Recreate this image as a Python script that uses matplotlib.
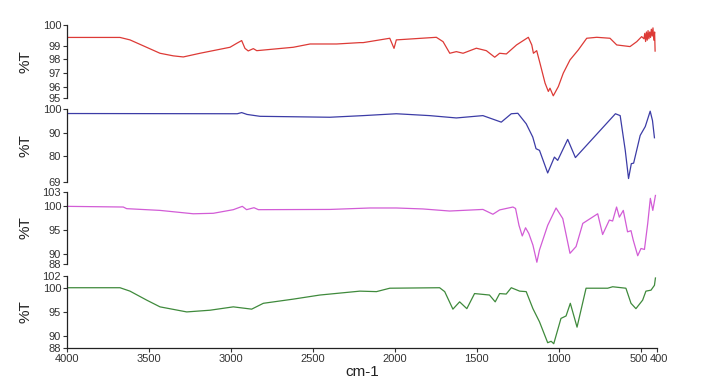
import numpy as np
import matplotlib
matplotlib.use('Agg')
import matplotlib.pyplot as plt
import matplotlib.transforms as mtrans

# wavenumbers (cm-1) and %T, one pair of lists per panel
red_wn = [4000, 3675, 3614, 3431, 3350, 3289, 3187, 3004, 2963, 2933, 2913,
          2893, 2862, 2841, 2618, 2516, 2354, 2212, 2192, 2030, 2004, 1990,
          1746, 1705, 1664, 1624, 1583, 1502, 1441, 1390, 1360, 1319, 1257,
          1185, 1164, 1154, 1134, 1114, 1083, 1063, 1053, 1033, 1002, 972,
          931, 880, 829, 768, 687, 646, 565, 524, 494, 480, 475, 470, 465,
          460, 455, 450, 445, 440, 435, 430, 425, 420, 415, 412]
red_t = [99.6, 99.6, 99.42, 98.44, 98.25, 98.17, 98.44, 98.88, 99.17, 99.37,
         98.8, 98.61, 98.78, 98.63, 98.88, 99.12, 99.12, 99.22, 99.22, 99.54,
         98.8, 99.42, 99.61, 99.29, 98.44, 98.56, 98.44, 98.81, 98.63, 98.15,
         98.44, 98.39, 99.05, 99.61, 99.05, 98.44, 98.63, 97.71, 96.25, 95.64,
         95.88, 95.32, 96.0, 96.98, 97.95, 98.69, 99.54, 99.61, 99.54, 99.05,
         98.93, 99.29, 99.66, 99.5, 99.9, 99.3, 100.0, 99.4, 100.1, 99.5,
         100.0, 99.6, 100.2, 99.7, 100.3, 99.4, 100.0, 98.6]

blue_wn = [4000, 2960, 2933, 2900, 2821, 2395, 2192, 1990, 1787, 1624, 1462,
           1350, 1289, 1249, 1198, 1158, 1138, 1117, 1067, 1026, 1006, 945,
           898, 654, 625, 594, 574, 557, 543, 503, 472, 442, 428, 416]
blue_t = [98.3, 98.2, 98.7, 97.9, 97.1, 96.7, 97.4, 98.2, 97.4, 96.4, 97.4,
          94.6, 98.2, 98.4, 93.9, 88.2, 83.2, 82.5, 72.8, 79.6, 78.2, 87.2,
          79.4, 98.2, 97.4, 82.5, 70.4, 76.8, 77.0, 88.9, 92.7, 99.3, 95.3,
          87.9]

mag_wn = [4000, 3655, 3634, 3431, 3228, 3106, 2984, 2929, 2903, 2858, 2831,
          2395, 2151, 1990, 1828, 1665, 1462, 1401, 1360, 1279, 1263, 1242,
          1222, 1202, 1182, 1157, 1133, 1117, 1067, 1016, 975, 931, 894, 853,
          762, 732, 691, 671, 647, 630, 606, 580, 559, 545, 518, 498, 477,
          457, 441, 426, 410]
mag_t = [99.94, 99.8, 99.46, 99.1, 98.4, 98.5, 99.25, 99.94, 99.25, 99.66,
         99.25, 99.3, 99.6, 99.6, 99.4, 98.97, 99.3, 98.3, 99.2, 99.8, 99.5,
         96.0, 93.8, 95.5, 94.3, 91.9, 88.35, 90.9, 96.0, 99.6, 97.4, 90.2,
         91.6, 96.4, 98.4, 94.1, 97.1, 96.9, 99.8, 97.7, 99.1, 94.65, 94.9,
         92.9, 89.7, 91.2, 91.0, 96.4, 101.6, 99.1, 102.2]

green_wn = [4000, 3675, 3614, 3512, 3431, 3268, 3126, 2984, 2872, 2801, 2618,
            2456, 2212, 2111, 2030, 1726, 1695, 1645, 1604, 1560, 1513, 1422,
            1387, 1360, 1320, 1289, 1238, 1198, 1157, 1117, 1067, 1046, 1030,
            986, 955, 929, 888, 833, 701, 671, 590, 559, 529, 488, 468, 437,
            416, 410]
green_t = [100.0, 100.0, 99.3, 97.45, 96.07, 95.03, 95.38, 96.07, 95.6, 96.8,
           97.66, 98.5, 99.3, 99.2, 99.9, 100.0, 99.2, 95.6, 97.1, 95.7, 98.8,
           98.5, 97.1, 98.8, 98.7, 100.0, 99.3, 99.2, 95.7, 93.0, 88.7, 89.0,
           88.5, 93.7, 94.2, 96.8, 91.9, 99.9, 99.9, 100.2, 99.9, 96.8, 95.7,
           97.45, 99.3, 99.5, 100.5, 102.0]

# y ranges and tick labels as shown on each panel
y_lims = [(95.15, 100.51), (69.0, 100.2), (88.0, 103.0), (87.7, 102.4)]
y_ticks = [[95.15, 96, 97, 98, 99, 100.51],
           [69, 80, 90, 100.2],
           [88, 90, 95, 100, 103],
           [87.7, 90, 95, 100, 102.4]]
y_tick_lbls = [['95', '96', '97', '98', '99', '100'],
               ['69', '80', '90', '100'],
               ['88', '90', '95', '100', '103'],
               ['88', '90', '95', '100', '102']]

x_ticks = [4000, 3500, 3000, 2500, 2000, 1500, 1000, 500, 400]
x_tick_lbls = ['4000', '3500', '3000', '2500', '2000', '1500', '1000', '500',
               '400']


def main():

    plt.rcParams['font.family'] = ['Liberation Sans', 'DejaVu Sans']

    fig = plt.figure(figsize=(7.02, 3.91), dpi=100)

    series = [(red_wn, red_t, '#dd3a36'),
              (blue_wn, blue_t, '#3c3ca6'),
              (mag_wn, mag_t, '#d25cd6'),
              (green_wn, green_t, '#3f8a3c')]

    # axes boxes in figure fractions: left, bottom, width, height
    boxes = [(0.095, 0.749, 0.841, 0.187),
             (0.095, 0.535, 0.841, 0.186),
             (0.095, 0.325, 0.841, 0.185),
             (0.095, 0.111, 0.841, 0.183)]

    for i, (wn, t, clr) in enumerate(series):
        ax = fig.add_axes(boxes[i])

        ax.plot(wn, t, c=clr, lw=0.9)

        ax.set_xlim(4000, 400)
        ax.set_ylim(*y_lims[i])

        ax.set_yticks(y_ticks[i])
        ax.set_yticklabels(y_tick_lbls[i])

        ax.tick_params(axis='y', direction='out', length=3, width=0.8,
                       pad=1, labelsize=8, colors='#333333')

        for side in ['top', 'right', 'bottom']:
            ax.spines[side].set_visible(False)
        ax.spines['left'].set_linewidth(0.9)
        ax.spines['left'].set_color('#222222')

        ax.set_ylabel('%T', fontsize=11, color='#222222')
        ax.yaxis.set_label_coords(-0.058, 0.5)

        if i < 3:
            ax.set_xticks([])
        else:
            ax.spines['bottom'].set_visible(True)
            ax.spines['bottom'].set_linewidth(0.9)
            ax.spines['bottom'].set_color('#222222')
            ax.set_xticks(x_ticks)
            ax.set_xticklabels(x_tick_lbls)
            ax.tick_params(axis='x', direction='out', length=3, width=0.8,
                           pad=1.5, labelsize=8, colors='#333333')
            ax.set_xlabel('cm-1', fontsize=11, labelpad=1, color='#222222')

            # 500 and 400 sit close together, nudge them apart a little
            lbls = ax.get_xticklabels()
            for lbl, dx in [(lbls[-2], -1.5), (lbls[-1], 1.5)]:
                lbl.set_transform(lbl.get_transform() + mtrans.ScaledTranslation(
                    dx / 72, 0, fig.dpi_scale_trans))

        ax.patch.set_alpha(0)

    fig.savefig('out.png', dpi=100)
    plt.close(fig)

    return


if __name__ == '__main__':
    main()
